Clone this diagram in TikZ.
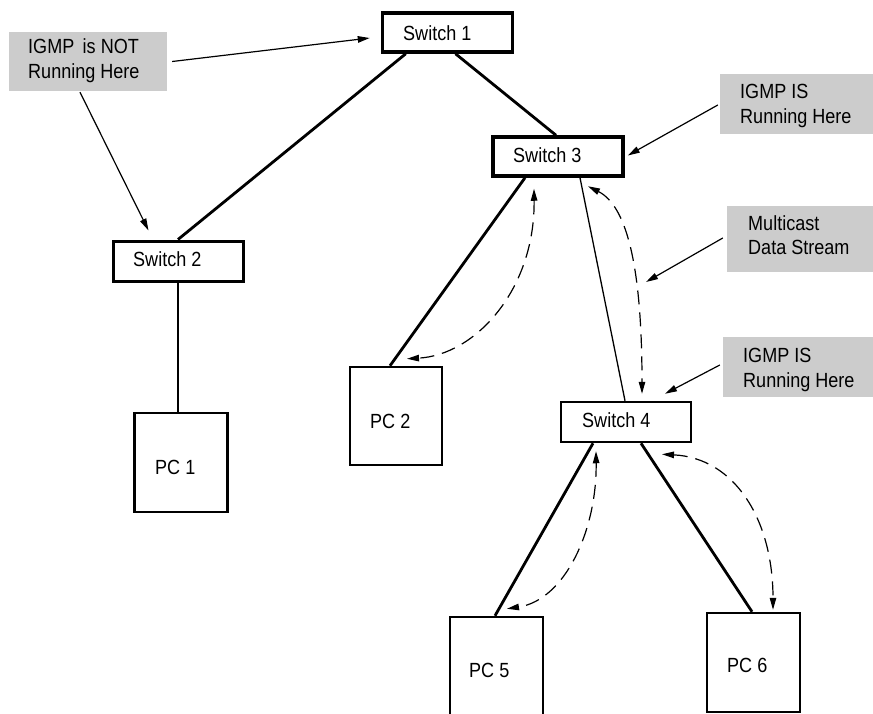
\documentclass[tikz,border=0pt]{standalone}
\usepackage{fontspec}
\setmainfont{Liberation Sans}[FakeStretch=0.88]
\usetikzlibrary{arrows.meta,calc}
\definecolor{greybox}{RGB}{204,204,204}
\begin{document}
\begin{tikzpicture}[x=1pt,y=-1pt,
  every node/.style={font=\fontsize{20.5}{25}\selectfont, inner sep=0pt},
  swbox/.style={draw, line width=#1, minimum width=130pt, minimum height=39pt},
  pcbox/.style={draw, line width=2.5pt, minimum width=93pt, minimum height=99pt},
  note/.style={fill=greybox},
  lbl/.style={anchor=base west},
  link/.style={line width=2.8pt},
  thinlink/.style={line width=1.3pt},
  pointer/.style={line width=1.2pt, -{Triangle[length=12pt,width=6.5pt]}},
  stream/.style={line width=1.2pt, dash pattern=on 14pt off 8pt,
     {Triangle[length=12pt,width=6.5pt]}-{Triangle[length=12pt,width=6.5pt]}}
]
\useasboundingbox (0,0) rectangle (873,713);

% switches
\node[swbox=3.5pt] (s1) at (447.5,32.5) {};
\node[swbox=3pt, minimum height=40pt] (s2) at (178,261) {};
\node[swbox=3.5pt] (s3) at (558,156.5) {};
\node[swbox=2.5pt, minimum height=40pt] (s4) at (626,422) {};
\node[lbl] (t1) at (403,40) {Switch 1};
\node[lbl] (t2) at (133,266) {Switch 2};
\node[lbl] (t3) at (513,162) {Switch 3};
\node[lbl] (t4) at (582,427) {Switch 4};

% PCs
\node[pcbox] (pc1) at (181,462.5) {};
\node[pcbox, minimum width=92pt, minimum height=98pt] (pc2) at (396,416) {};
\node[pcbox, minimum height=100pt] (pc5) at (496.5,667) {};
\node[pcbox] (pc6) at (753.5,662.5) {};
\node[lbl] (tp1) at (155,474) {PC 1};
\node[lbl] (tp2) at (370,428) {PC 2};
\node[lbl] (tp5) at (469,677) {PC 5};
\node[lbl] (tp6) at (727,672) {PC 6};

% grey notes
\node[note, minimum width=158pt, minimum height=59pt] (g1) at (88,61.5) {};
\node[note, minimum width=153pt, minimum height=60pt] (g2) at (796.5,104) {};
\node[note, minimum width=146pt, minimum height=66pt] (g3) at (800,239) {};
\node[note, minimum width=150pt, minimum height=60pt] (g4) at (798,367) {};
\node[lbl] (g1a) at (28,53) {IGMP\, is NOT};
\node[lbl] (g1b) at (28,78) {Running Here};
\node[lbl] (g2a) at (740,98) {IGMP IS};
\node[lbl] (g2b) at (740,123) {Running Here};
\node[lbl] (g3a) at (748,230) {Multicast};
\node[lbl] (g3b) at (748,254) {Data Stream};
\node[lbl] (g4a) at (743,362) {IGMP IS};
\node[lbl] (g4b) at (743,387) {Running Here};

% links
\draw[link] ($(s1.south west)+(25,0)$) -- (s2.north);
\draw[link] ($(s1.south)+(8,0)$) -- ($(s3.north)+(-2,0)$);
\draw[link] (s2.south) -- (s2.south |- pc1.north);
\draw[link] ($(s3.south)+(-33,0)$) -- ($(pc2.north)+(-6,0)$);
\draw[thinlink] ($(s3.south)+(22,0)$) -- ($(s4.north)+(-1,0)$);
\draw[link] ($(s4.south)+(-33,0)$) -- ($(pc5.north)+(-1.5,0)$);
\draw[link] ($(s4.south)+(15,0)$) -- ($(pc6.north)+(-1.5,0)$);

% pointers
\coordinate (streamhit) at (646,282);
\draw[pointer] ($(g1.east)+(5,0)$) -- ($(s1.west)+(-11,5.5)$);
\draw[pointer] ($(g1.south)+(-8,1)$) -- ($(s2.north west)+(37,-9)$);
\draw[pointer] ($(g2.west)+(-2,1)$) -- ($(s3.east)+(3,-1)$);
\draw[pointer] ($(g3.west)+(-4,-1)$) -- (streamhit);
\draw[pointer] ($(g4.west)+(-3,-2)$) -- ($(s4.north)+(39,-7)$);

% multicast streams
\draw[stream] ($(s3.south)+(-24,11)$) .. controls (535,290) and (475,355) .. ($(pc2.north)+(11,-7)$);
\draw[stream] ($(s3.south)+(30,8.5)$) .. controls (625,205) and (642,260) .. ($(s4.north)+(16,-7)$);
\draw[stream] ($(s4.south)+(-30,8)$) .. controls (597,530) and (565,600) .. ($(pc5.north)+(10.5,-7)$);
\draw[stream] ($(s4.south)+(36,11)$) .. controls (735,458) and (773,520) .. ($(pc6.north)+(19.5,-2)$);
\end{tikzpicture}
\end{document}
